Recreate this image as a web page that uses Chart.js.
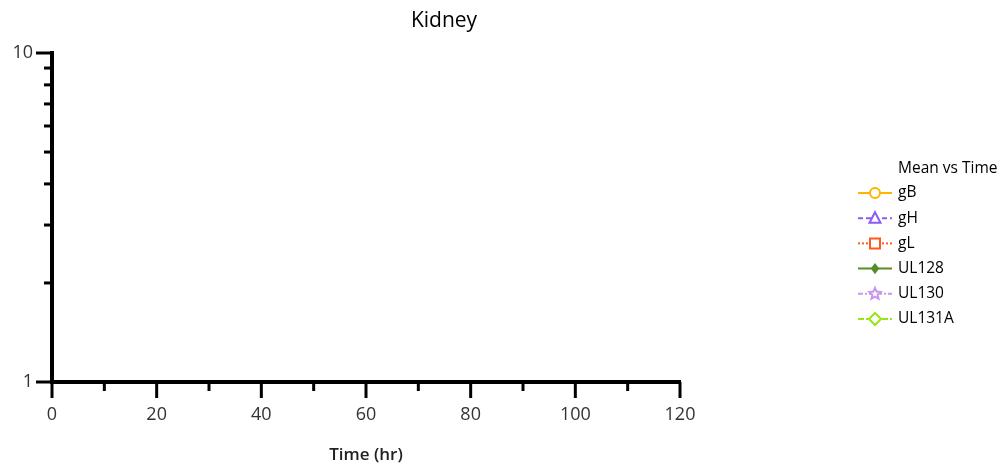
<!DOCTYPE html>
<html>
<head>
<meta charset="utf-8">
<script src="https://cdn.jsdelivr.net/npm/chart.js@4.4.1/dist/chart.umd.min.js"></script>
<style>
  html, body { margin: 0; padding: 0; background: #fff; }
  #wrap { width: 1008px; height: 470px; }
</style>
</head>
<body>
<div id="wrap"><canvas id="myChart" width="1008" height="470"></canvas></div>
<script>
// Data: axes only, no points are plotted
const timeHr = [];
const seriesNames = ['gB', 'gH', 'gL', 'UL128', 'UL130', 'UL131A'];
const seriesValues = [[], [], [], [], [], []];
const seriesColors = ['#FFB400', '#8C5CF5', '#FF5A1E', '#5A8C28', '#C896F0', '#96E614'];
const seriesDash = [[], [5, 3], [2, 2], [], [5, 2, 2, 2, 2, 2], [6, 2, 2, 2]];
const seriesMarker = ['circle', 'triangle', 'rect', 'smallDiamond', 'star', 'diamond'];
const xTicksLabelled = [0, 20, 40, 60, 80, 100, 120];
const yTicksLabelled = [1, 10];

const FONT = "'Open Sans', 'Noto Sans', sans-serif";

function drawMarker(ctx, kind, x, y, color) {
  ctx.save();
  ctx.setLineDash([]);
  ctx.strokeStyle = color;
  ctx.fillStyle = '#fff';
  ctx.lineWidth = 2;
  ctx.beginPath();
  if (kind === 'circle') {
    ctx.arc(x, y, 5, 0, Math.PI * 2);
  } else if (kind === 'triangle') {
    ctx.moveTo(x, y - 6); ctx.lineTo(x + 5.5, y + 4.5); ctx.lineTo(x - 5.5, y + 4.5); ctx.closePath();
  } else if (kind === 'rect') {
    ctx.rect(x - 5, y - 5, 10, 10);
  } else if (kind === 'smallDiamond') {
    ctx.moveTo(x, y - 4); ctx.lineTo(x + 3, y); ctx.lineTo(x, y + 4); ctx.lineTo(x - 3, y); ctx.closePath();
    ctx.fillStyle = color;
  } else if (kind === 'diamond') {
    ctx.moveTo(x, y - 6); ctx.lineTo(x + 6, y); ctx.lineTo(x, y + 6); ctx.lineTo(x - 6, y); ctx.closePath();
  } else if (kind === 'star') {
    for (let i = 0; i < 10; i++) {
      const r = i % 2 === 0 ? 6 : 2.8;
      const a = -Math.PI / 2 + i * Math.PI / 5;
      const px = x + r * Math.cos(a), py = y + r * Math.sin(a);
      if (i === 0) ctx.moveTo(px, py); else ctx.lineTo(px, py);
    }
    ctx.closePath();
  }
  ctx.fill();
  ctx.stroke();
  ctx.restore();
}

// tick marks: long on labelled values, short otherwise
const tickMarks = {
  id: 'tickMarks',
  afterDraw(chart) {
    const {ctx, scales: {x, y}} = chart;
    ctx.save();
    ctx.strokeStyle = '#000';
    ctx.lineWidth = 3;
    x.ticks.forEach(t => {
      const px = x.getPixelForValue(t.value);
      const len = xTicksLabelled.includes(t.value) ? 16 : 9;
      ctx.beginPath(); ctx.moveTo(px, x.top); ctx.lineTo(px, x.top + len); ctx.stroke();
    });
    y.ticks.filter(t => Number.isInteger(t.value)).forEach(t => {
      const py = y.getPixelForValue(t.value);
      const len = yTicksLabelled.includes(t.value) ? 16 : 8;
      ctx.beginPath(); ctx.moveTo(y.right, py); ctx.lineTo(y.right - len, py); ctx.stroke();
    });
    ctx.restore();
  }
};

// title and legend on the right, with line style and marker of each series
const sideLegend = {
  id: 'sideLegend',
  afterDraw(chart, args, opts) {
    const {ctx} = chart;
    ctx.save();
    ctx.fillStyle = '#000';
    ctx.textBaseline = 'middle';
    ctx.textAlign = 'center';
    ctx.font = '21px ' + FONT;
    ctx.fillText(opts.title, opts.titleX, 21);
    ctx.textAlign = 'left';
    ctx.font = '15.5px ' + FONT;
    ctx.fillText('Mean vs Time', opts.x + 40, opts.y);
    chart.data.datasets.forEach((ds, i) => {
      const yy = opts.y + 24 + i * 25.2;
      ctx.strokeStyle = ds.borderColor;
      ctx.lineWidth = 2;
      ctx.setLineDash(ds.borderDash);
      ctx.beginPath(); ctx.moveTo(opts.x, yy); ctx.lineTo(opts.x + 34, yy); ctx.stroke();
      drawMarker(ctx, seriesMarker[i], opts.x + 17, yy, ds.borderColor);
      ctx.fillStyle = '#000';
      ctx.fillText(ds.label, opts.x + 40, yy);
    });
    ctx.restore();
  }
};

const ctx = document.getElementById('myChart').getContext('2d');
const chart = new Chart(ctx, {
  type: 'line',
  data: {
    labels: timeHr,
    datasets: seriesNames.map((name, i) => ({
      label: name,
      data: seriesValues[i],
      borderColor: seriesColors[i],
      backgroundColor: seriesColors[i],
      borderDash: seriesDash[i],
      borderWidth: 2,
    }))
  },
  options: {
    responsive: false,
    animation: false,
    layout: { padding: { left: 0, right: 328, top: 53, bottom: 0 } },
    scales: {
      x: {
        type: 'linear',
        min: 0, max: 120,
        grid: { display: false, drawTicks: false },
        border: { display: true, color: '#000', width: 4 },
        ticks: {
          stepSize: 10,
          padding: 22,
          color: '#333',
          font: { family: FONT, size: 18 },
          autoSkip: false,
          maxRotation: 0,
          callback: v => xTicksLabelled.includes(v) ? String(v) : ''
        },
        title: {
          display: true,
          text: 'Time (hr)',
          color: '#222',
          font: { family: FONT, size: 17, weight: '600' },
          padding: { top: 0, bottom: 5 }
        },
        afterFit(scale) { scale.height = 88; }
      },
      y: {
        type: 'logarithmic',
        min: 1, max: 10,
        grid: { display: false, drawTicks: false },
        border: { display: true, color: '#000', width: 4 },
        ticks: {
          padding: 19,
          color: '#333',
          font: { family: FONT, size: 18 },
          autoSkip: false,
          callback: v => yTicksLabelled.includes(v) ? String(v) : ''
        },
        afterFit(scale) { scale.width = 52; }
      }
    },
    plugins: {
      legend: { display: false },
      tooltip: { enabled: false },
      title: { display: false },
      sideLegend: { x: 858, y: 169, title: 'Kidney', titleX: 444 }
    }
  },
  plugins: [tickMarks, sideLegend]
});
</script>
</body>
</html>
